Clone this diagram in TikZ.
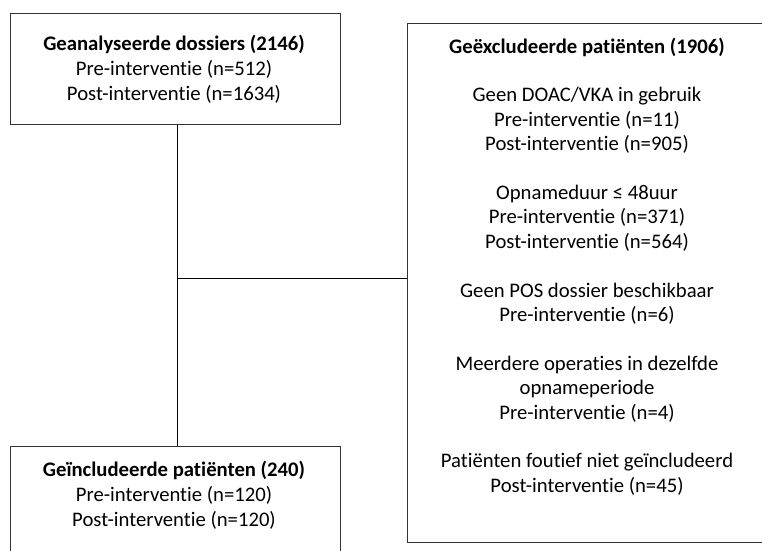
\documentclass[tikz,border=0pt]{standalone}
\usepackage{fontspec}
\setmainfont[Ligatures={NoCommon}]{Carlito}
\begin{document}
\begin{tikzpicture}[x=1pt,y=-1pt,
  box/.style={draw=black!80, line width=1pt, inner sep=0pt},
  ln/.style={font=\fontsize{20.7}{24}\selectfont, inner sep=0pt, anchor=base},
  conn/.style={draw=black, line width=1pt}]
\useasboundingbox (0,0) rectangle (762,550);
\clip (0,0) rectangle (762,550);
% boxes
\node[box, minimum width=330pt, minimum height=111pt] (b1) at (175,68.5) {};
\node[box, minimum width=368pt, minimum height=519pt] (b2) at (591,282.5) {};
\node[box, minimum width=330pt, minimum height=154pt] (b3) at (175,523) {};
% connectors
\coordinate (j) at (177,278);
\draw[conn] (j |- b1.south) -- (j |- b3.north);
\draw[conn] (j) -- (j -| b2.west);
% box 1 text
\node[ln] (a1) at (174,50) {\textbf{Geanalyseerde dossiers (2146)}};
\node[ln] (a2) at (174,75) {Pre-interventie (n=512)};
\node[ln] (a3) at (174,100) {Post-interventie (n=1634)};
% box 3 text
\node[ln] (c1) at (174,476) {\textbf{Geïncludeerde patiënten (240)}};
\node[ln] (c2) at (174,501) {Pre-interventie (n=120)};
\node[ln] (c3) at (174,526) {Post-interventie (n=120)};
% box 2 text
\node[ln] (r0) at (587,53) {\textbf{Geëxcludeerde patiënten (1906)}};
\node[ln] (r2) at (587,101.8) {Geen DOAC/VKA in gebruik};
\node[ln] (r3) at (587,126.2) {Pre-interventie (n=11)};
\node[ln] (r4) at (587,150.6) {Post-interventie (n=905)};
\node[ln] (r6) at (587,199.4) {Opnameduur ≤ 48uur};
\node[ln] (r7) at (587,223.8) {Pre-interventie (n=371)};
\node[ln] (r8) at (587,248.2) {Post-interventie (n=564)};
\node[ln] (r10) at (587,297) {Geen POS dossier beschikbaar};
\node[ln] (r11) at (587,321.4) {Pre-interventie (n=6)};
\node[ln] (r13) at (587,370.2) {Meerdere operaties in dezelfde};
\node[ln] (r14) at (587,394.6) {opnameperiode};
\node[ln] (r15) at (587,419) {Pre-interventie (n=4)};
\node[ln] (r17) at (587,467.8) {Patiënten foutief niet geïncludeerd};
\node[ln] (r18) at (587,492.2) {Post-interventie (n=45)};
\end{tikzpicture}
\end{document}
